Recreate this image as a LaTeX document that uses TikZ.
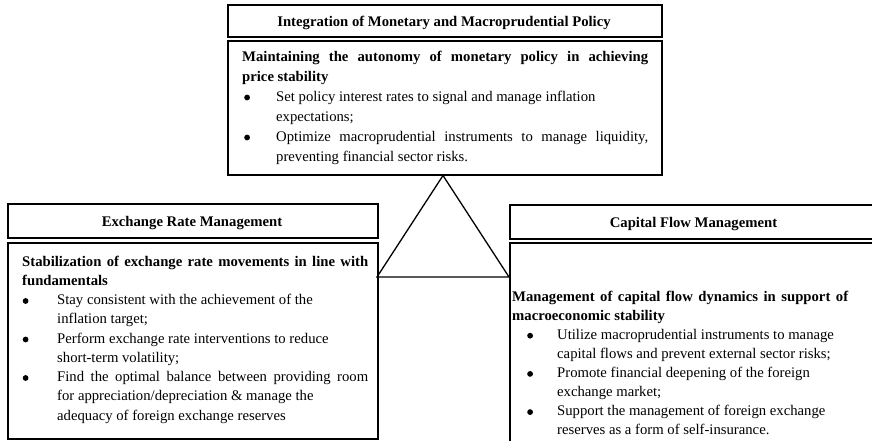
\documentclass[tikz,border=0pt]{standalone}
\usepackage{fontspec}
\setmainfont{Liberation Serif}
\newcommand{\dotmark}{\tikz[baseline=0pt,x=1pt,y=1pt]\fill[black] (2.9,3.7) circle (2.9);}
\newcommand{\bul}[2]{\hspace*{#1}\makebox[\dimexpr #2-#1\relax][l]{\dotmark}}
\newcommand{\ind}[1]{\hspace*{#1}}
\newcommand{\js}[2]{\makebox[#1][s]{#2}}
\begin{document}
\begin{tikzpicture}[x=1pt,y=-1pt,
  frame/.style={draw=black, line width=1.7pt, inner sep=0pt, anchor=north west},
  ttl/.style={anchor=base, inner sep=0pt, font=\fontsize{14.7}{18}\selectfont\bfseries},
  body/.style={anchor=north west, inner sep=0pt, align=left},
  tri/.style={draw=black, line width=1.3pt, line join=miter}]
\useasboundingbox (0,0) rectangle (872,441);
\clip (0,0) rectangle (872,441);
\fill[white] (0,0) rectangle (872,441);

% top block
\node[frame, minimum width=434pt, minimum height=32pt] (topttl) at (227,4) {};
\node[frame, minimum width=434pt, minimum height=134pt] (topbox) at (227,40) {};
\node[ttl] (toptxt) at (444,26.5) {Integration of Monetary and Macroprudential Policy};
\node[body, font=\fontsize{14.7}{20}\selectfont] (topbody) at (242,49) {%
\rule{0pt}{12pt}\textbf{\js{406pt}{Maintaining the autonomy of monetary policy in achieving}}\\
\textbf{price stability}\\
\bul{2pt}{34pt}Set policy interest rates to signal and manage inflation\\
\ind{34pt}expectations;\\
\bul{2pt}{34pt}\js{372pt}{Optimize macroprudential instruments to manage liquidity,}\\
\ind{34pt}preventing financial sector risks.};

% left block
\node[frame, minimum width=370pt, minimum height=34pt] (leftttl) at (7,203) {};
\node[frame, minimum width=370pt, minimum height=196pt] (leftbox) at (7,242) {};
\node[ttl] (lefttxt) at (192,226.5) {Exchange Rate Management};
\node[body, font=\fontsize{14.7}{19.25}\selectfont] (leftbody) at (22,254) {%
\rule{0pt}{12pt}\textbf{\js{346pt}{Stabilization of exchange rate movements in line with}}\\
\textbf{fundamentals}\\
\bul{0.5pt}{35pt}Stay consistent with the achievement of the\\
\ind{35pt}inflation target;\\
\bul{0.5pt}{35pt}Perform exchange rate interventions to reduce\\
\ind{35pt}short-term volatility;\\
\bul{0.5pt}{35pt}\js{311pt}{Find the optimal balance between providing room}\\
\ind{35pt}for appreciation/depreciation \& manage the\\
\ind{35pt}adequacy of foreign exchange reserves};

% right block
\node[frame, minimum width=369pt, minimum height=34pt] (rightttl) at (509,204) {};
\node[frame, minimum width=369pt, minimum height=199pt] (rightbox) at (509,242) {};
\node[ttl] (righttxt) at (693.5,227) {Capital Flow Management};
\node[body, font=\fontsize{14.7}{19.1}\selectfont] (rightbody) at (512,289) {%
\rule{0pt}{12pt}\textbf{\js{336pt}{Management of capital flow dynamics in support of}}\\
\textbf{macroeconomic stability}\\
\bul{15pt}{45pt}Utilize macroprudential instruments to manage\\
\ind{45pt}capital flows and prevent external sector risks;\\
\bul{15pt}{45pt}Promote financial deepening of the foreign\\
\ind{45pt}exchange market;\\
\bul{15pt}{45pt}Support the management of foreign exchange\\
\ind{45pt}reserves as a form of self-insurance.};

% triangle
\coordinate (apex) at (443,175.5);
\coordinate (baseL) at (377,277);
\coordinate (baseR) at (509,277);
\draw[tri] (baseL) -- (apex) -- (baseR) -- cycle;
\end{tikzpicture}
\end{document}
